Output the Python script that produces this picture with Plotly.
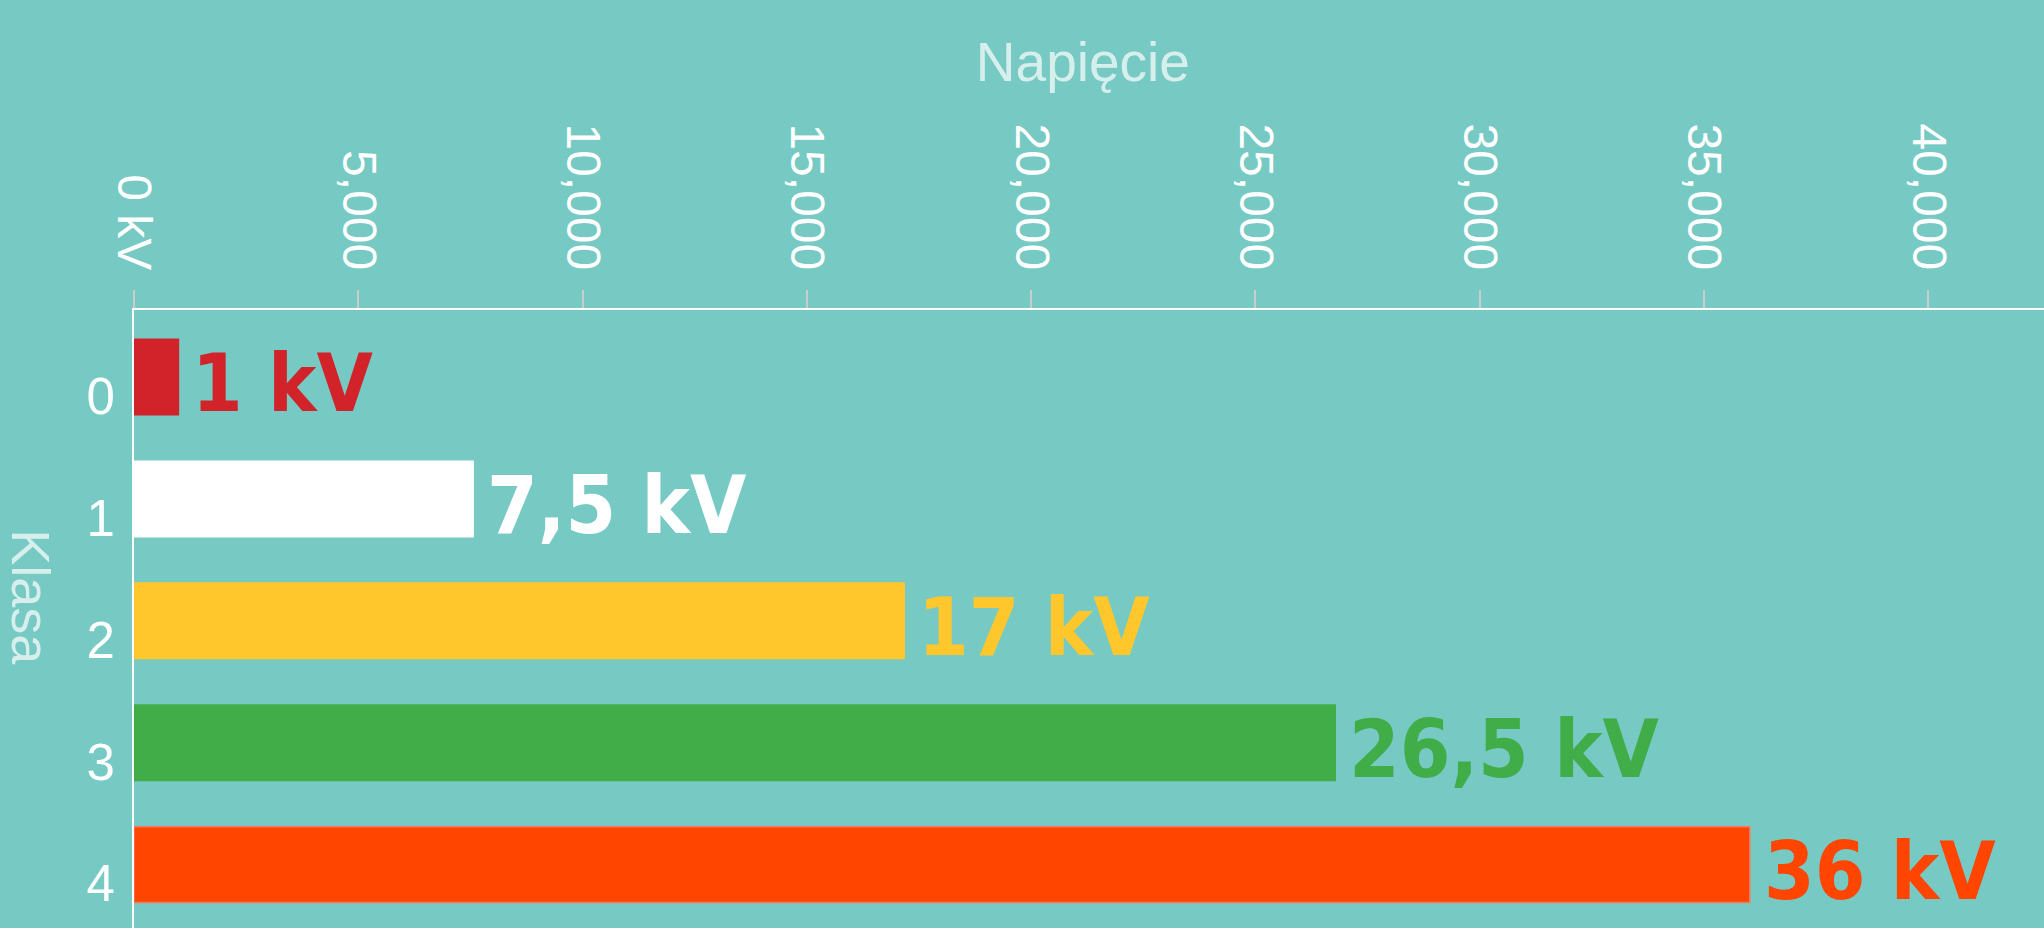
import plotly.graph_objects as go

# ---- data ----
classes = ["0", "1", "2", "3", "4"]
voltages = [990, 7560, 17170, 26780, 36020]
value_labels = ["1 kV", "7,5 kV", "17 kV", "26,5 kV", "36 kV"]
bar_colors = ["#D2232A", "#FFFFFF", "#FFC72C", "#41AD49", "#FF4500"]
x_tickvals = [0, 5000, 10000, 15000, 20000, 25000, 30000, 35000, 40000]
x_ticktext = ["0 kV", "5,000", "10,000", "15,000", "20,000", "25,000", "30,000", "35,000", "40,000"]
x_title = "Napięcie"
y_title = "Klasa"

BG = "#76CAC3"
TITLE_COL = "rgba(255,255,255,0.7)"
BASE_FONT = "Liberation Sans, Arial, Helvetica, sans-serif"
LABEL_FONT = "DejaVu Sans Condensed, Liberation Sans Narrow, Arial Narrow, sans-serif"

line_colors = ["#D2232A", "#FFFFFF", "#FFC72C", "#41AD49", "#F7775A"]

fig = go.Figure()
fig.add_trace(go.Bar(
    x=voltages,
    y=classes,
    orientation="h",
    width=0.62,
    marker=dict(color=bar_colors, line=dict(color=line_colors, width=1.5)),
    hoverinfo="x+y",
    showlegend=False,
))

annotations = []
for c, v, lab, col in zip(classes, voltages, value_labels, bar_colors):
    annotations.append(dict(
        x=v, y=c, xref="x", yref="y",
        text=lab, showarrow=False,
        xanchor="left", yanchor="middle",
        xshift=12, yshift=-6,
        font=dict(family=LABEL_FONT, size=81, color=col, weight="bold"),
    ))

annotations.append(dict(
    x=-0.054, y=0.5356, xref="paper", yref="paper",
    text=y_title, showarrow=False, textangle=90,
    xanchor="center", yanchor="middle",
    font=dict(family=BASE_FONT, size=54, color=TITLE_COL),
))

fig.update_layout(
    width=2044, height=928,
    paper_bgcolor=BG, plot_bgcolor=BG,
    margin=dict(l=134, r=0, t=310, b=0, pad=0),
    bargap=0.38,
    title=dict(
        text=x_title, x=(134 + 1910 / 2) / 2044 - 0.003, xanchor="center",
        y=1 - 62 / 928, yanchor="middle", yref="container", xref="container",
        font=dict(family=BASE_FONT, size=55, color=TITLE_COL),
    ),
    annotations=annotations,
)

fig.update_xaxes(
    side="top",
    range=[0, 42580],
    tickvals=x_tickvals,
    ticktext=x_ticktext,
    tickangle=90,
    tickfont=dict(family=BASE_FONT, size=48, color="white"),
    ticks="outside", ticklen=18, tickwidth=2, tickcolor="#CCCCCC",
    ticklabelstandoff=3,
    showline=True, linecolor="white", linewidth=2,
    showgrid=False, zeroline=False,
)

fig.update_yaxes(
    type="category",
    categoryorder="array", categoryarray=classes,
    range=[4.52, -0.55],
    tickfont=dict(family=BASE_FONT, size=51, color="white"),
    ticks="", ticklabelstandoff=7,
    ticklabelshift=-19,
    showline=True, linecolor="white", linewidth=2,
    showgrid=False, zeroline=False,
)

fig.write_html(
    "out.html",
    config={"displayModeBar": False},
    post_script="document.body.style.margin='0px';document.body.style.padding='0px';document.body.style.overflow='hidden';",
)
